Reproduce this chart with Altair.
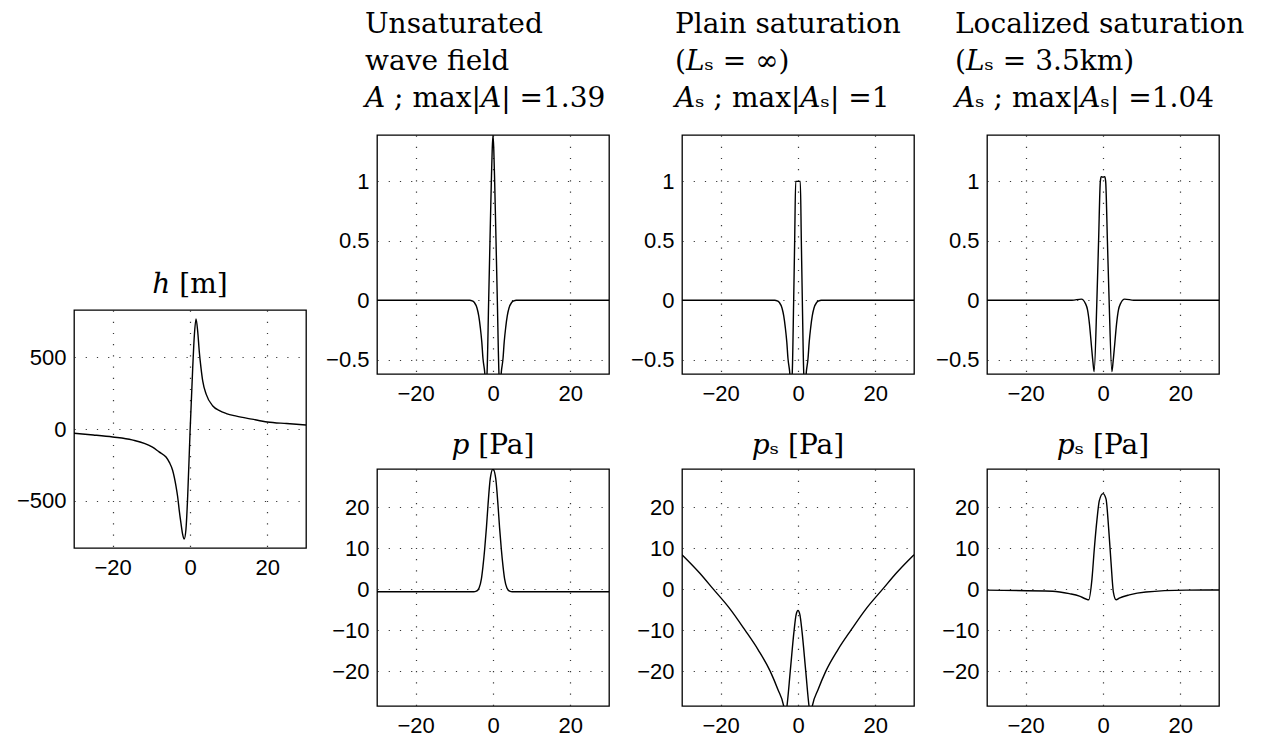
import altair as alt
import pandas as pd

SERIF = "DejaVu Serif"
SANS = "Liberation Sans"
X_TICKS = [-20, 0, 20]

# ---------------- data ----------------
h_x = [-30, -25, -20, -15, -9.7, -8, -6.2, -5.3, -4.5, -3.6, -3.2, -2.8, -2.35, -1.9, -1.5,
       -1.05, -0.6, 0, 0.7, 1.13, 1.56, 2.0, 2.4, 2.85, 3.3, 4.2, 5.9, 7.5, 9.4, 12, 16, 20, 25, 30]
h_y = [-30, -42, -56, -76, -127, -160, -196, -235, -288, -403, -472, -565, -657, -737, -770,
       -703, -472, -30, 426, 657, 770, 680, 541, 426, 334, 242, 161, 130, 108, 90, 69, 49, 38, 28]

A_x = [-30, -6.0, -5.4, -4.8, -4.14, -3.7, -3.28, -2.9, -2.59, -2.16, -1.85, -1.55, -1.12, -0.78,
       -0.43, -0.2, 0, 0.2, 0.43, 0.78, 1.12, 1.55, 1.85, 2.16, 2.59, 2.9, 3.28, 3.7, 4.14, 4.8,
       5.4, 6.0, 30]
A_y = [0, 0, -0.005, -0.02, -0.065, -0.13, -0.23, -0.35, -0.49, -0.6, -0.72, -0.62, 0, 0.5,
       1.0, 1.27, 1.39, 1.27, 1.0, 0.5, 0, -0.62, -0.72, -0.6, -0.49, -0.35, -0.23, -0.13, -0.065,
       -0.02, -0.005, 0, 0]

As_plain_x = [-30, -6.0, -5.4, -4.8, -4.14, -3.7, -3.28, -2.9, -2.59, -2.16, -1.85, -1.5, -1.12,
              -0.86, -0.6, 0, 0.6, 0.86, 1.12, 1.5, 1.85, 2.16, 2.59, 2.9, 3.28, 3.7, 4.14, 4.8,
              5.4, 6.0, 30]
As_plain_y = [0, 0, -0.005, -0.02, -0.065, -0.13, -0.23, -0.35, -0.49, -0.6, -0.72, -0.62, 0,
              0.5, 1.0, 1.0, 1.0, 0.5, 0, -0.62, -0.72, -0.6, -0.49, -0.35, -0.23, -0.13, -0.065,
              -0.02, -0.005, 0, 0]

As_loc_x = [-30, -8, -5.6, -4.5, -4.0, -3.5, -3.0, -2.6, -2.3, -1.58, -1.14, -0.69, -0.45, 0,
            0.45, 0.69, 1.14, 1.58, 2.3, 2.6, 3.0, 3.5, 4.0, 4.5, 5.6, 8, 30]
As_loc_y = [0, 0, 0.01, -0.03, -0.08, -0.2, -0.38, -0.52, -0.6, 0, 0.5, 1.0, 1.04, 1.035,
            1.04, 1.0, 0.5, 0, -0.6, -0.52, -0.38, -0.2, -0.08, -0.03, 0.01, 0, 0]

p_x = [-30, -5, -4.3, -3.6, -3.0, -2.6, -2.15, -1.7, -1.3, -0.7, 0, 0.7, 1.3, 1.7, 2.15, 2.6,
       3.0, 3.6, 4.3, 5, 30]
p_y = [-0.65, -0.65, -0.5, 0.3, 2.5, 5.5, 9.8, 15, 20.4, 27, 29.3, 27, 20.4, 15, 9.8, 5.5, 2.5,
       0.3, -0.5, -0.65, -0.65]

ps_plain_x = [-30, -25.5, -21.9, -17.6, -13.7, -10.3, -7.2, -5.2, -3.7, -3.25, -2.85, -2.0, -1.0,
              -0.5, 0, 0.5, 1.0, 2.0, 2.85, 3.25, 3.7, 5.2, 7.2, 10.3, 13.7, 17.6, 21.9, 25.5, 30]
ps_plain_y = [8.4, 4.0, 0, -4.8, -10, -14.8, -20, -24.5, -28.5, -31, -28.5, -20, -10, -6.3, -5.2,
              -6.3, -10, -20, -28.5, -31, -28.5, -24.5, -20, -14.8, -10, -4.8, 0, 4.0, 8.4]

ps_loc_x = [-30, -13, -8.7, -6.1, -4.4, -3.7, -2.85, -2.25, -1.55, -0.95, 0, 0.78, 1.47, 2.07,
            2.68, 3.4, 4.2, 6.8, 11.1, 21.5, 30]
ps_loc_y = [-0.25, -0.5, -1.1, -1.7, -2.4, -2.6, 2.5, 9.8, 17, 21.6, 23.3, 22, 14.7, 6.6, -0.7,
            -2.6, -2.2, -1.4, -0.7, -0.25, -0.2]

A_DOMAIN = [-0.62, 1.39]
A_TICKS = [-0.5, 0, 0.5, 1]
P_DOMAIN = [-28.5, 29.3]
P_TICKS = [-20, -10, 0, 10, 20]
H_DOMAIN = [-832, 832]
H_TICKS = [-500, 0, 500]

TITLES_TOP = [
    ["Unsaturated", "wave field", "𝐴 ; max|𝐴| =1.39"],
    ["Plain saturation", "(𝐿ₛ = ∞)", "𝐴ₛ ; max|𝐴ₛ| =1"],
    ["Localized saturation", "(𝐿ₛ = 3.5km)", "𝐴ₛ ; max|𝐴ₛ| =1.04"],
]
TITLES_BOTTOM = ["𝑝 [Pa]", "𝑝ₛ [Pa]", "𝑝ₛ [Pa]"]
TITLE_H = "ℎ [m]"

W = 232
TFS = 28


def panel(xs, ys, ydom, yticks, yfmt, title, height):
    df = pd.DataFrame({"x": xs, "y": ys})
    return (
        alt.Chart(df, title=title)
        .mark_line(color="black", strokeWidth=1.4, clip=True, interpolate="monotone")
        .encode(
            x=alt.X("x:Q", scale=alt.Scale(domain=[-30, 30], nice=False, zero=False),
                    axis=alt.Axis(values=X_TICKS, title=None, format="d", labelPadding=9)),
            y=alt.Y("y:Q", scale=alt.Scale(domain=ydom, nice=False, zero=False),
                    axis=alt.Axis(values=yticks, title=None, format=yfmt, labelPadding=8)),
        )
        .properties(width=W, height=height)
    )


def top_title(lines, dx):
    return alt.TitleParams(text=lines, anchor="start", align="left", frame="group", dx=dx,
                           font=SERIF, fontSize=TFS, fontWeight="normal", color="black",
                           lineHeight=37, baseline="alphabetic", offset=0)


def small_title(text, offset):
    return alt.TitleParams(text=text, anchor="middle", frame="group", font=SERIF, fontSize=TFS,
                           fontWeight="normal", color="black", baseline="alphabetic",
                           offset=offset)


top = alt.hconcat(
    panel(A_x, A_y, A_DOMAIN, A_TICKS, ".1~f", top_title(TITLES_TOP[0], -12), 239),
    panel(As_plain_x, As_plain_y, A_DOMAIN, A_TICKS, ".1~f", top_title(TITLES_TOP[1], -7), 239),
    panel(As_loc_x, As_loc_y, A_DOMAIN, A_TICKS, ".1~f", top_title(TITLES_TOP[2], -32), 239),
    spacing=73, bounds="flush",
)
bottom = alt.hconcat(
    panel(p_x, p_y, P_DOMAIN, P_TICKS, "d", small_title(TITLES_BOTTOM[0], -13), 237),
    panel(ps_plain_x, ps_plain_y, P_DOMAIN, P_TICKS, "d", small_title(TITLES_BOTTOM[1], -13), 237),
    panel(ps_loc_x, ps_loc_y, P_DOMAIN, P_TICKS, "d", small_title(TITLES_BOTTOM[2], -13), 237),
    spacing=73, bounds="flush",
)
right = alt.vconcat(top, bottom, spacing=26)

spacer = (
    alt.Chart(pd.DataFrame({"x": [0], "y": [0]}))
    .mark_point(opacity=0)
    .encode(x=alt.X("x:Q", axis=None), y=alt.Y("y:Q", axis=None))
    .properties(width=W, height=175, view=alt.ViewBackground(strokeOpacity=0))
)
left = alt.vconcat(
    spacer,
    panel(h_x, h_y, H_DOMAIN, H_TICKS, "d", small_title(TITLE_H, -11), 238),
    spacing=0, bounds="flush",
)

chart = (
    alt.hconcat(left, right, spacing=17)
    .properties(padding={"left": 15, "top": 10, "right": 5, "bottom": 5}, background="white")
    .configure_view(stroke="black", strokeWidth=1.3)
    .configure_axis(
        domain=False, ticks=False, grid=True, gridColor="#222", gridDash=[1.2, 10],
        gridWidth=1.2, gridOpacity=0.9, labelFont=SANS, labelFontSize=22, labelColor="black",
    )
)

chart.save("out.html", embed_options={"renderer": "svg", "actions": False})
